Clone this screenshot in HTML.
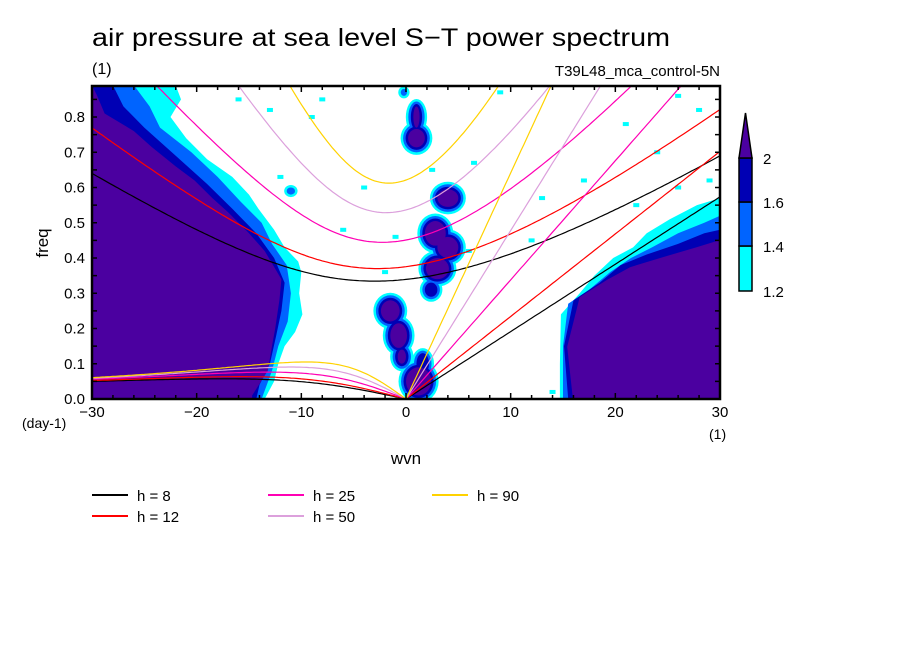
<!DOCTYPE html>
<html><head><meta charset="utf-8"><style>
body{margin:0;background:#fff;width:904px;height:654px;overflow:hidden}
svg text{font-family:"Liberation Sans",sans-serif;fill:#000}
</style></head><body>
<svg id="chart" width="904" height="654" viewBox="0 0 904 654" xmlns="http://www.w3.org/2000/svg">
<text x="92" y="46" font-size="25" textLength="578" lengthAdjust="spacingAndGlyphs">air pressure at sea level S−T power spectrum</text>
<text x="92" y="74" font-size="16">(1)</text>
<text x="720" y="76" font-size="15" text-anchor="end">T39L48_mca_control-5N</text>
<text x="48" y="243" font-size="17" text-anchor="middle" transform="rotate(-90 48 243)">freq</text>
<text x="406" y="464" font-size="17" text-anchor="middle">wvn</text>
<text x="22" y="428" font-size="14">(day-1)</text>
<text x="709" y="439" font-size="14">(1)</text>
<defs><clipPath id="plotclip"><rect x="92" y="86" width="628" height="313"/></clipPath></defs>
<g id="field" clip-path="url(#plotclip)"></g>
<g id="curves" clip-path="url(#plotclip)"></g>
<rect x="92" y="86" width="628" height="313" fill="none" stroke="#000" stroke-width="2.5"/>
<g id="axes"></g>
<g id="colorbar"></g>
<g id="legend"></g>
</svg>
<script>
const xTicks=[-30,-20,-10,0,10,20,30];
const yTicks=[0.0,0.1,0.2,0.3,0.4,0.5,0.6,0.7,0.8];
const depths=[8,12,25,50,90];
const depthColors=['#000000','#ff0000','#ff00b4','#dca0dc','#ffd200'];
const levels=[1.2,1.4,1.6,2];
const levelColors=['#00ffff','#0064ff','#0000b4','#4b00a0'];
// contour regions, [wvn,freq] vertices
const leftCyan=[[-30,0],[-30,0.89],[-22,0.89],[-21.5,0.85],[-22.5,0.8],[-21,0.74],[-19,0.68],[-16.6,0.63],[-15,0.58],[-14.1,0.54],[-12.6,0.48],[-11.6,0.43],[-10.3,0.39],[-10,0.36],[-10.2,0.3],[-9.9,0.24],[-10.6,0.19],[-11.6,0.15],[-12.2,0.1],[-12.6,0.05],[-13.5,0.0]];
const leftBlue=[[-30,0],[-30,0.89],[-26,0.89],[-24.5,0.83],[-23.5,0.77],[-20.5,0.7],[-18,0.63],[-15.8,0.56],[-13.8,0.5],[-12.8,0.44],[-11.4,0.38],[-11,0.3],[-11.3,0.22],[-12.2,0.15],[-12.8,0.08],[-13.8,0.0]];
const leftDark=[[-30,0],[-30,0.89],[-28,0.89],[-27,0.83],[-25,0.77],[-22,0.69],[-19,0.61],[-16.6,0.54],[-14.3,0.47],[-12.6,0.4],[-11.6,0.33],[-11.9,0.25],[-12.4,0.18],[-13,0.1],[-14,0.04],[-14.3,0.0]];
const leftPurple=[[-30,0],[-30,0.89],[-29.5,0.86],[-28.8,0.81],[-26,0.76],[-24.3,0.715],[-22,0.66],[-20.2,0.62],[-18.5,0.57],[-17,0.53],[-15,0.47],[-13.5,0.42],[-11.9,0.34],[-12.1,0.28],[-12.5,0.2],[-12.8,0.15],[-13.2,0.08],[-14.7,0.01],[-14.7,0]];
const rightCyan=[[30,0],[14.7,0],[14.7,0.1],[14.8,0.24],[16.6,0.3],[18,0.35],[19.8,0.4],[21.7,0.43],[23,0.47],[25.2,0.51],[27.8,0.55],[30,0.57]];
const rightBlue=[[30,0],[15,0],[15,0.15],[15.5,0.27],[17.5,0.31],[19.5,0.36],[21.5,0.4],[23.5,0.43],[26,0.47],[28.5,0.5],[30,0.52]];
const rightDark=[[30,0],[15.5,0],[15.1,0.15],[16,0.28],[18.5,0.33],[20.5,0.38],[23,0.41],[26,0.44],[28.5,0.47],[30,0.48]];
const rightPurple=[[30,0],[15.95,0],[15.4,0.148],[16.6,0.289],[19.2,0.338],[21.4,0.374],[24.6,0.403],[27.8,0.431],[30,0.451]];
const blobCenters=[[1,0.74],[1,0.8],[4.0,0.57],[2.8,0.47],[4,0.43],[3,0.37],[2.4,0.31],[-1.5,0.25],[-0.7,0.18],[-0.4,0.12],[1.2,0.05],[1.6,0.1],[-11,0.59],[-0.2,0.87]];
const blobSizes=[[0.8,0.026],[0.3,0.03],[1.0,0.025],[1.0,0.035],[1.0,0.03],[1.1,0.03],[0.6,0.02],[0.9,0.03],[0.8,0.035],[0.4,0.02],[1.2,0.04],[0.6,0.03],[0.4,0.01],[0.3,0.01]];
const blobLevels=[3,3,3,3,3,3,2,3,3,3,3,2,1,1];
const specks=[[-16,0.85],[-13,0.82],[-8,0.85],[-12,0.63],[-6,0.48],[-9,0.8],[9,0.87],[13,0.57],[12,0.45],[6,0.42],[-1,0.46],[2.5,0.65],[6.5,0.67],[-4,0.6],[21,0.78],[26,0.86],[28,0.82],[-2,0.36],[14,0.02],[17,0.62],[24,0.7],[26,0.6],[29,0.62],[22,0.55]];

const X0=92,X1=720,Y0=399,Y1=86;
function xs(v){return X0+(v+30)/60*(X1-X0);}
function ys(v){return Y0-v/0.888*(Y0-Y1);}
const NS='http://www.w3.org/2000/svg';
function mk(tag,attrs,parent){const e=document.createElementNS(NS,tag);for(const k in attrs)e.setAttribute(k,attrs[k]);parent.appendChild(e);return e;}
const field=document.getElementById('field');
function poly(pts,li,name){const p=mk('polygon',{points:pts.map(q=>xs(q[0]).toFixed(1)+','+ys(q[1]).toFixed(1)).join(' '),fill:levelColors[li]},field);

}
poly(leftCyan,0,'left-region-cyan');poly(leftBlue,1,'left-region-blue');poly(leftDark,2,'left-region-darkblue');poly(leftPurple,3,'left-region-purple');
poly(rightCyan,0,'right-region-cyan');poly(rightBlue,1,'right-region-blue');poly(rightDark,2,'right-region-darkblue');poly(rightPurple,3,'right-region-purple');
const pxPerW=(X1-X0)/60, pxPerF=(Y0-Y1)/0.888;
for(let l=0;l<4;l++){
  blobCenters.forEach((c,i)=>{
    if(l>blobLevels[i])return;
    const sz=blobSizes[i];
    const grow=(blobLevels[i]-l)*2.5;
    const e=mk('ellipse',{cx:xs(c[0]),cy:ys(c[1]),rx:sz[0]*pxPerW+grow,ry:sz[1]*pxPerF+grow,fill:levelColors[l]},field);
    
    
  });
}
specks.forEach(s=>{const e=mk('rect',{x:xs(s[0])-3,y:ys(s[1])-2,width:6,height:4,fill:levelColors[0]},field);

});

const g=9.81,beta=2.29e-11,a=6.371e6,toCpd=86400/(2*Math.PI);
function solve(c,k,w){for(let i=0;i<60;i++){const f=w*w*w-(c*c*k*k+3*beta*c)*w-beta*c*c*k;const d=3*w*w-(c*c*k*k+3*beta*c);w-=f/d;}return w;}
const curves=document.getElementById('curves');
depths.forEach((h,i)=>{
  const c=Math.sqrt(g*h);let kel=[],eig=[],ros=[];
  for(let s=-30;s<=30.001;s+=0.25){
    const k=s/a;
    if(s>=0)kel.push([s,c*k*toCpd]);
    eig.push([s,solve(c,k,Math.sqrt(c*c*k*k+3*beta*c))*toCpd]);
    if(s<=0){const w0=-beta*k/(k*k+3*beta/c);ros.push([s,s===0?0:solve(c,k,w0)*toCpd]);}
  }
  [['kelvin',kel],['eig',eig],['rossby',ros]].forEach(([nm,arr])=>{
    const p=mk('polyline',{points:arr.map(q=>xs(q[0]).toFixed(1)+','+ys(q[1]).toFixed(1)).join(' '),fill:'none',stroke:depthColors[i],'stroke-width':1.2},curves);
    
    
  });
});

const axes=document.getElementById('axes');
xTicks.forEach(t=>{const e=mk('text',{x:xs(t),y:417,'font-size':15,'text-anchor':'middle'},axes);e.textContent=(t<0?'−':'')+Math.abs(t);

});
for(let t=-30;t<=30;t+=2){mk('line',{x1:xs(t),x2:xs(t),y1:Y0,y2:Y0-(t%10===0?6:4),stroke:'#000','stroke-width':1.5},axes);mk('line',{x1:xs(t),x2:xs(t),y1:Y1,y2:Y1+(t%10===0?6:4),stroke:'#000','stroke-width':1.5},axes);}
yTicks.forEach(t=>{const e=mk('text',{x:85,y:ys(t)+5,'font-size':15,'text-anchor':'end'},axes);e.textContent=t.toFixed(1);

});
for(let t=0;t<=0.88;t+=0.05){mk('line',{x1:X0,x2:X0+5,y1:ys(t),y2:ys(t),stroke:'#000','stroke-width':1.5},axes);mk('line',{x1:X1,x2:X1-5,y1:ys(t),y2:ys(t),stroke:'#000','stroke-width':1.5},axes);}

const cb=document.getElementById('colorbar');
const cbY=[291,246,202,158];
for(let i=0;i<3;i++){const r=mk('rect',{x:739,y:cbY[i+1],width:13,height:cbY[i]-cbY[i+1],fill:levelColors[i],stroke:'#000','stroke-width':1.5},cb);

}
const tri=mk('polygon',{points:'739,158 752,158 745.5,113',fill:levelColors[3],stroke:'#000','stroke-width':1.5},cb);


levels.forEach((l,i)=>{const e=mk('text',{x:763,y:cbY[i]+6,'font-size':15},cb);e.textContent=String(l);

});

const lg=document.getElementById('legend');
const lgX=[92,268,432],lgY=[495,516];
depths.forEach((h,i)=>{const col=Math.floor(i/2),row=i%2;
  const x=lgX[col],y=lgY[row];
  const ln=mk('line',{x1:x,x2:x+36,y1:y,y2:y,stroke:depthColors[i],'stroke-width':2},lg);
  
  
  const t=mk('text',{x:x+45,y:y+6,'font-size':15,'xml:space':'preserve'},lg);t.textContent='h = '+(h<10?' ':'')+h;
  
  
});
</script>
</body></html>
